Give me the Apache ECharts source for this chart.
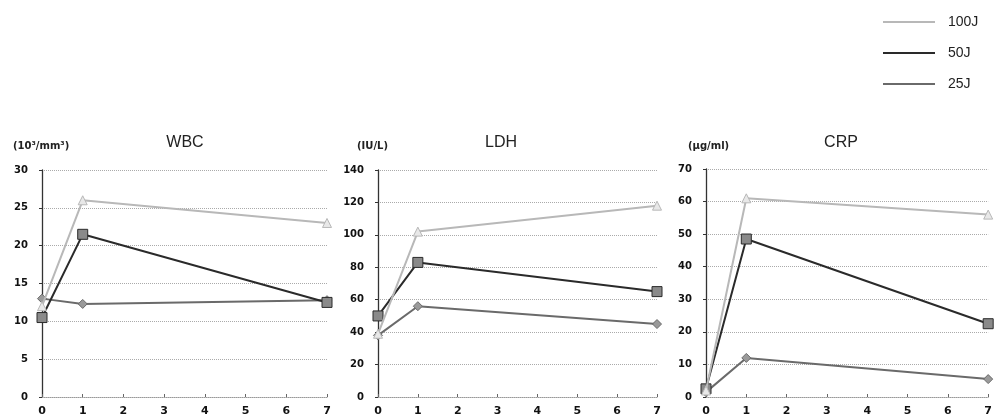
<!DOCTYPE html>
<html><head><meta charset="utf-8">
<script src="https://cdn.jsdelivr.net/npm/echarts@6/dist/echarts.min.js"></script>
<style>html,body{margin:0;padding:0;background:#fff}#c{width:995px;height:418px}</style>
</head><body><div id="c"></div>
<script>
const days = [0, 1, 7];
const seriesNames = ['100J', '50J', '25J'];
const panelTitles = ['WBC', 'LDH', 'CRP'];
const panelUnits = ['(10³/mm³)', '(IU/L)', '(μg/ml)'];
const yMax = [30, 140, 70];
const yStep = [5, 20, 10];
const xTicks = [0, 1, 2, 3, 4, 5, 6, 7];
const wbc100 = [12, 26, 23];
const wbc50 = [10.5, 21.5, 12.5];
const wbc25 = [13, 12.3, 12.8];
const ldh100 = [39, 102, 118];
const ldh50 = [50, 83, 65];
const ldh25 = [38, 56, 45];
const crp100 = [2, 61, 56];
const crp50 = [2.5, 48.5, 22.5];
const crp25 = [1.5, 12, 5.5];

const panels = [[wbc100, wbc50, wbc25], [ldh100, ldh50, ldh25], [crp100, crp50, crp25]];
const lineColors = ['#b8b8b8', '#2a2a2a', '#6a6a6a'];
const symbols = ['triangle', 'rect', 'diamond'];
const symFill = ['#e8e8e8', '#8a8a8a', '#9a9a9a'];
const symSize = [9, 10, 9];
const grids = [
  {left: 42, top: 170, width: 285, height: 227},
  {left: 378, top: 170, width: 279, height: 227},
  {left: 706, top: 169, width: 284, height: 228}
];
const titleX = [180, 496, 836];
const unitX = [8, 352, 683];
const font = 'Verdana, "DejaVu Sans", sans-serif';

const xAxis = [], yAxis = [], series = [], title = [];
grids.forEach((g, i) => {
  xAxis.push({type: 'value', gridIndex: i, min: 0, max: 7, interval: 1,
    axisLine: {show: true, lineStyle: {color: '#999', type: 'dotted'}},
    axisTick: {show: true, length: 3, inside: true, lineStyle: {color: '#666'}},
    splitLine: {show: false},
    axisLabel: {color: '#111', fontSize: 11, fontWeight: 'bold', fontFamily: font, margin: 9}});
  yAxis.push({type: 'value', gridIndex: i, min: 0, max: yMax[i], interval: yStep[i],
    axisLine: {show: true, lineStyle: {color: '#333', width: 1.3}},
    axisTick: {show: true, length: 3, lineStyle: {color: '#333'}},
    splitLine: {show: true, lineStyle: {color: '#aaa', type: 'dotted'}},
    axisLabel: {color: '#111', fontSize: 10, fontWeight: 'bold', fontFamily: font, margin: 14}});
  panels[i].forEach((vals, s) => {
    series.push({name: seriesNames[s], type: 'line', xAxisIndex: i, yAxisIndex: i,
      data: days.map((d, k) => [d, vals[k]]),
      symbol: symbols[s], symbolSize: symSize[s], showSymbol: true,
      lineStyle: {color: lineColors[s], width: 2},
      itemStyle: {color: symFill[s], borderColor: lineColors[s], borderWidth: 1},
      z: 3 - s + 2, animation: false});
  });
  title.push({text: panelTitles[i], left: titleX[i], top: 130,
    textAlign: 'center',
    textStyle: {fontSize: 16, fontWeight: 'normal', color: '#222', fontFamily: 'Arial, "Liberation Sans", sans-serif'}});
  title.push({text: panelUnits[i], left: unitX[i], top: 136,
    textStyle: {fontSize: 10, fontWeight: 'bold', color: '#222', fontFamily: font}});
});

const chart = echarts.init(document.getElementById('c'));
chart.setOption({
  animation: false,
  backgroundColor: '#fff',
  title: title,
  grid: grids,
  xAxis: xAxis,
  yAxis: yAxis,
  legend: {orient: 'vertical', left: 878, top: 10, itemGap: 17, itemWidth: 52, itemHeight: 2,
    icon: 'rect', data: seriesNames.map((n, s) => ({name: n, itemStyle: {color: lineColors[s], borderWidth: 0}})),
    textStyle: {fontSize: 14, color: '#222', fontFamily: 'Arial, "Liberation Sans", sans-serif', padding: [0, 0, 0, 8]}},
  series: series
});
</script></body></html>
